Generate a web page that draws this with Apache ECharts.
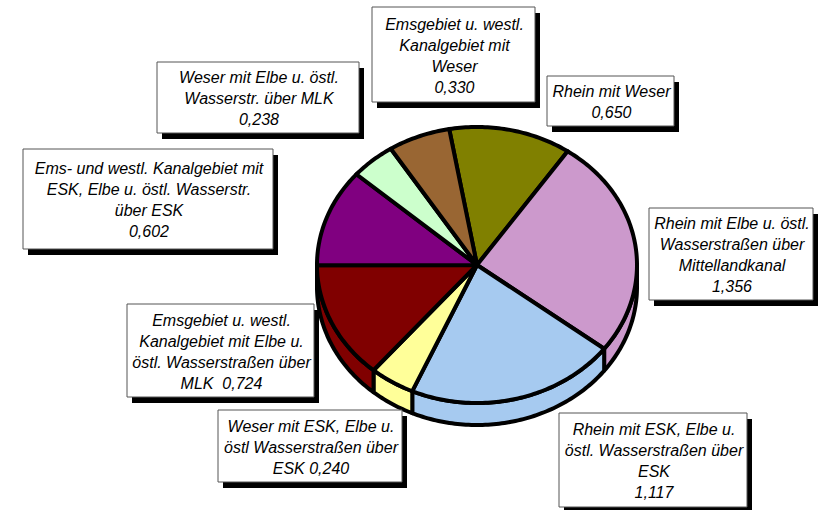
<!DOCTYPE html>
<html>
<head>
<meta charset="utf-8">
<script src="https://cdn.jsdelivr.net/npm/echarts@6/dist/echarts.min.js"></script>
<style>
  html, body { margin: 0; padding: 0; background: #fff; }
  #my_chart { width: 825px; height: 510px; }
</style>
</head>
<body>
<div id="my_chart"></div>
<script>
  // slices, clockwise starting just left of 12 o'clock
  var categories = [
    'Rhein mit Weser',
    'Rhein mit Elbe u. östl.\nWasserstraßen über\nMittellandkanal',
    'Rhein mit ESK, Elbe u.\nöstl. Wasserstraßen über\nESK',
    'Weser mit ESK, Elbe u.\nöstl Wasserstraßen über\nESK',
    'Emsgebiet u. westl.\nKanalgebiet mit Elbe u.\nöstl. Wasserstraßen über\nMLK',
    'Ems- und westl. Kanalgebiet mit\nESK, Elbe u. östl. Wasserstr.\nüber ESK',
    'Weser mit Elbe u. östl.\nWasserstr. über MLK',
    'Emsgebiet u. westl.\nKanalgebiet mit\nWeser'
  ];
  var values = [0.650, 1.356, 1.117, 0.240, 0.724, 0.602, 0.238, 0.330];
  var valueJoin = ['\n', '\n', '\n', ' ', '  ', '\n', '\n', '\n'];
  var colors = ['#808000', '#CC99CC', '#A6CAF0', '#FFFF99', '#800000', '#800080', '#CCFFCC', '#996633'];

  // label boxes [x, y, w, h]
  var boxes = [
    [547, 76, 127, 50],
    [649, 208, 164, 92],
    [559, 413, 188, 94],
    [218, 410, 184, 72],
    [127, 304, 187, 93],
    [23, 149, 250, 100],
    [157, 62, 202, 71],
    [372, 7, 163, 95]
  ];

  // pie geometry
  var cx = 477, cy = 265, rx = 160, ry = 138, depth = 22, startAngle = 100;

  var total = values.reduce(function (a, b) { return a + b; }, 0);
  var cum = [];
  values.reduce(function (acc, v, i) { cum[i] = acc; return acc + v; }, 0);

  function pt(deg, dy) {
    var t = deg * Math.PI / 180;
    return [cx + rx * Math.cos(t), cy - ry * Math.sin(t) + (dy || 0)];
  }
  function arc(from, to, dy) {
    var n = Math.max(2, Math.ceil(Math.abs(from - to)) + 1), pts = [];
    for (var k = 0; k < n; k++) pts.push(pt(from + (to - from) * k / (n - 1), dy));
    return pts;
  }
  function fmt(v) { return v.toFixed(3).replace('.', ','); }

  var my_chart = echarts.init(document.getElementById('my_chart'), null, { renderer: 'svg' });

  my_chart.setOption({
    animation: false,
    series: [{
      type: 'custom',
      coordinateSystem: 'none',
      data: values.map(function (v, i) {
        return { value: [v], name: categories[i], itemStyle: { color: colors[i] } };
      }),
      renderItem: function (params, api) {
        var i = params.dataIndex;
        var v = api.value(0);
        var s = startAngle - 360 * cum[i] / total;
        var e = s - 360 * v / total;
        var color = colors[i];
        var children = [];
        var line = { stroke: '#000', lineWidth: 4, lineJoin: 'round' };

        // outer wall, only the front half (-180..0) is visible
        var a = Math.max(e, -180), b = Math.min(s, 0);
        if (b > a) {
          var side = arc(b, a).concat(arc(a, b, depth));
          children.push({
            type: 'polygon', z2: 1,
            shape: { points: side },
            style: Object.assign({ fill: color }, line)
          });
        }

        // top face
        children.push({
          type: 'polygon', z2: 2,
          shape: { points: [[cx, cy]].concat(arc(s, e)) },
          style: Object.assign({ fill: color }, line)
        });

        // label box with hard shadow
        var bx = boxes[i];
        children.push({
          type: 'rect', z2: 3,
          shape: { x: bx[0] + 5, y: bx[1] + 6, width: bx[2], height: bx[3] },
          style: { fill: '#000' }
        });
        children.push({
          type: 'rect', z2: 4,
          shape: { x: bx[0], y: bx[1], width: bx[2], height: bx[3] },
          style: { fill: '#fff', stroke: '#555', lineWidth: 1 }
        });
        children.push({
          type: 'text', z2: 5,
          style: {
            text: categories[i] + valueJoin[i] + fmt(v),
            x: bx[0] + bx[2] / 2 + 1,
            y: bx[1] + bx[3] / 2 + 1,
            align: 'center',
            verticalAlign: 'middle',
            fill: '#000',
            fontFamily: '"Liberation Sans", Arial, sans-serif',
            fontStyle: 'italic',
            fontSize: 16,
            lineHeight: 21
          }
        });
        return { type: 'group', children: children };
      }
    }]
  });
</script>
</body>
</html>
